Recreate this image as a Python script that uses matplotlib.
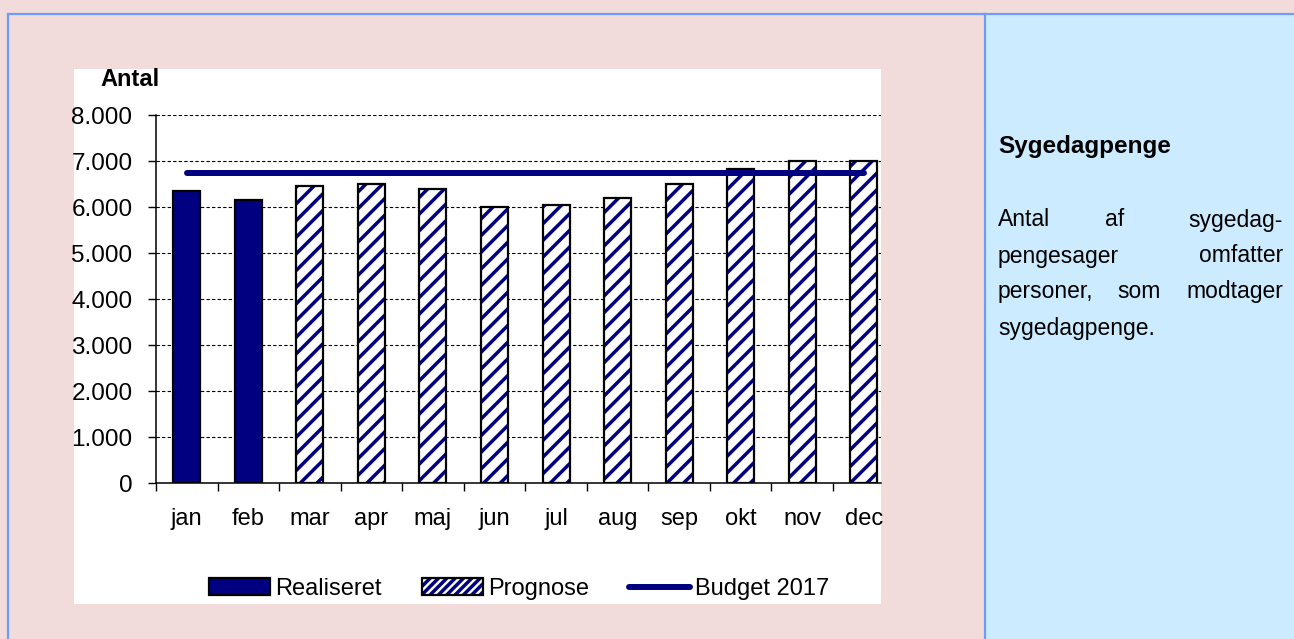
import matplotlib.pyplot as plt
from matplotlib.patches import Patch, Rectangle
from matplotlib.lines import Line2D
from matplotlib.ticker import FuncFormatter

# data
months = ["jan", "feb", "mar", "apr", "maj", "jun", "jul", "aug", "sep", "okt", "nov", "dec"]
realiseret = [6350, 6150]
prognose = [6460, 6510, 6390, 5990, 6040, 6200, 6510, 6820, 7010, 7010]
budget_2017 = [6730] * 12
y_ticks = [0, 1000, 2000, 3000, 4000, 5000, 6000, 7000, 8000]

NAVY = "#000080"
PINK = "#F2DCDB"
LIGHT_BLUE = "#CCEBFF"
BORDER = "#6E9BFF"
W, H = 1294, 639

plt.rcParams["font.family"] = ["Liberation Sans", "DejaVu Sans"]
plt.rcParams["hatch.linewidth"] = 2.5


def box(x0, y0, x1, y1):
    # pixel box (top-left origin) -> figure fraction [left, bottom, width, height]
    return [x0 / W, 1 - y1 / H, (x1 - x0) / W, (y1 - y0) / H]


fig = plt.figure(figsize=(W / 100, H / 100), dpi=100)
fig.patch.set_facecolor(PINK)

# page panels
for (x0, y0, x1, y1), col in [((985, 14, W, H), LIGHT_BLUE), ((74, 69, 881, 604), "white")]:
    l, b, w, h = box(x0, y0, x1, y1)
    fig.add_artist(Rectangle((l, b), w, h, transform=fig.transFigure,
                             facecolor=col, edgecolor="none", zorder=-5))
for xs, ys in [((8, W), (14, 14)), ((8, 8), (14, H)), ((985, 985), (14, H))]:
    fig.add_artist(Line2D([x / W for x in xs], [1 - y / H for y in ys],
                          transform=fig.transFigure, color=BORDER, lw=1.6, zorder=-4))

ax = fig.add_axes(box(156, 115, 881, 483))
ax.set_facecolor("none")

x = list(range(len(months)))
bar_w = 0.44
ax.bar(x[:2], realiseret, width=bar_w, color=NAVY, edgecolor="black", linewidth=1.6, zorder=2)
ax.bar(x[2:], prognose, width=bar_w, color="white", edgecolor=NAVY, hatch="//",
       linewidth=0, zorder=2)
ax.bar(x[2:], prognose, width=bar_w, fill=False, edgecolor="black", linewidth=1.6, zorder=2)
ax.plot(x, budget_2017, color=NAVY, lw=4.3, solid_capstyle="round", zorder=3)

ax.set_ylim(0, 8000)
ax.set_xlim(-0.5, 11.28)
ax.set_yticks(y_ticks)
ax.yaxis.set_major_formatter(FuncFormatter(lambda v, p: f"{int(v):,}".replace(",", ".")))
ax.yaxis.grid(True, color="black", linestyle=(0, (3, 2)), linewidth=0.8)
ax.set_axisbelow(True)

ax.set_xticks([i - 0.5 for i in x])
ax.set_xticklabels([""] * len(x))
ax.set_xticks(x, months, minor=True)
ax.tick_params(axis="x", which="major", length=6, width=1, direction="out")
ax.tick_params(axis="x", which="minor", length=0, pad=18, labelsize=17)
ax.tick_params(axis="y", length=6, width=1, pad=11, labelsize=17.5)

for side in ["top", "right"]:
    ax.spines[side].set_visible(False)
for side in ["left", "bottom"]:
    ax.spines[side].set_linewidth(1.1)

fig.text(100 / W, 1 - 80 / H, "Antal", fontsize=17, fontweight="bold", ha="left", va="center")

handles = [
    Patch(facecolor=NAVY, edgecolor="black", linewidth=1.6),
    (Patch(facecolor="white", edgecolor=NAVY, hatch="////", linewidth=0),
     Patch(fill=False, edgecolor="black", linewidth=1.6)),
    Line2D([], [], color=NAVY, lw=4.3, solid_capstyle="round"),
]
fig.legend(handles, ["Realiseret", "Prognose", "Budget 2017"], loc="center",
           bbox_to_anchor=(519 / W, 1 - 589 / H), ncol=3, frameon=False, fontsize=17,
           handlelength=2.6, handleheight=0.7, handletextpad=0.2, columnspacing=1.7,
           borderpad=0, borderaxespad=0)

# side panel text, justified by hand
fig.text(998 / W, 1 - 147 / H, "Sygedagpenge", fontsize=17.5, fontweight="bold",
         ha="left", va="center")
lines = [
    (220, [("Antal", 998, "left"), ("af", 1115, "center"), ("sygedag-", 1283, "right")]),
    (256, [("pengesager", 998, "left"), ("omfatter", 1283, "right")]),
    (292, [("personer,", 998, "left"), ("som", 1139, "center"), ("modtager", 1283, "right")]),
    (328, [("sygedagpenge.", 998, "left")]),
]
for y, words in lines:
    for word, xp, ha in words:
        fig.text(xp / W, 1 - y / H, word, fontsize=16.5, ha=ha, va="center")

fig.savefig("out.png", dpi=100, facecolor=fig.get_facecolor())
